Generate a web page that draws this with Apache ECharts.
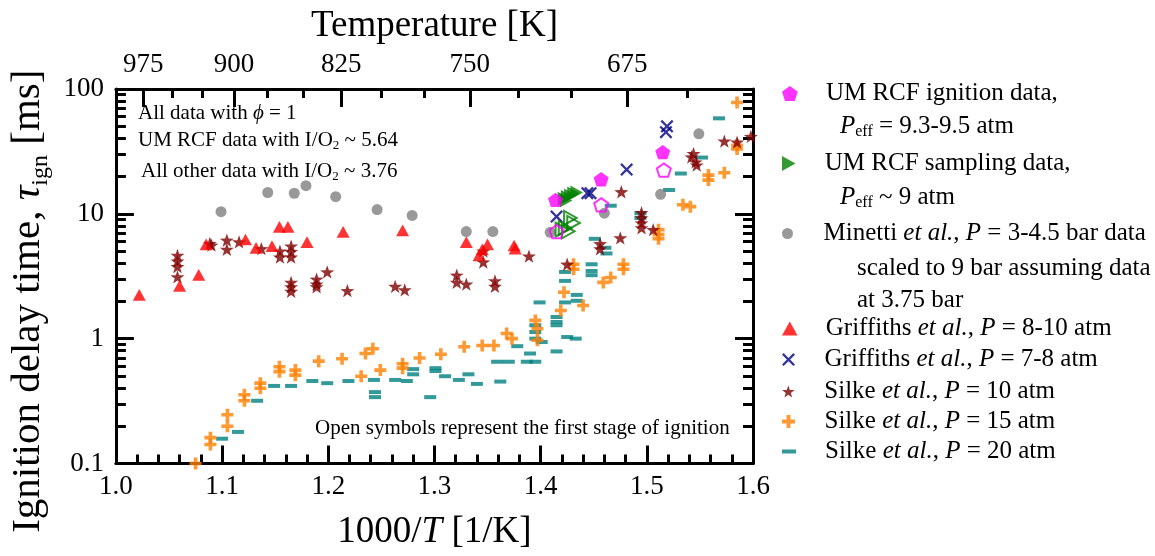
<!DOCTYPE html>
<html><head><meta charset="utf-8">
<script src="https://cdn.jsdelivr.net/npm/echarts@6/dist/echarts.min.js"></script>
<style>html,body{margin:0;padding:0;background:#fff}#c{width:1155px;height:556px}</style>
</head><body><div id="c"></div>
<script>
// ---------------- data (x = 1000/T [1/K], y = ignition delay [ms]) ----------------
const xTickLabels = [1.0, 1.1, 1.2, 1.3, 1.4, 1.5, 1.6];
const yTickLabels = [0.1, 1, 10, 100];
const tempMajor = [975, 900, 825, 750, 675];
const tempMinor = [950, 925, 875, 850, 800, 775, 725, 700, 650];

const umIgnition = [[1.515,31.2],[1.457,18.9],[1.414,12.9]];
const umIgnitionFirst = [[1.516,22.4],[1.457,11.8],[1.415,7.2]];
const umSampling = [[1.424,12.8],[1.422,13.2],[1.425,13.6],[1.428,14.0],[1.431,14.5],[1.434,14.8]];
const umSamplingFirst = [[1.428,9.25],[1.431,8.44],[1.420,7.46],[1.426,7.24],[1.423,7.7]];
const minetti = [[1.099,10.4],[1.143,14.8],[1.168,14.6],[1.179,16.8],[1.207,13.7],[1.246,10.8],[1.279,9.7],[1.330,7.2],[1.355,7.2],[1.409,7.1],[1.460,10.1],[1.513,14.3],[1.549,43.7]];
const griffiths810 = [[1.022,2.24],[1.060,2.65],[1.078,3.24],[1.085,5.68],[1.122,6.22],[1.132,5.34],[1.147,5.5],[1.154,7.84],[1.162,7.84],[1.180,5.92],[1.214,7.16],[1.270,7.37],[1.330,5.92],[1.342,4.64],[1.345,5.18],[1.350,5.68],[1.375,5.57],[1.376,5.25]];
const griffiths78 = [[1.519,50.2],[1.518,45.0],[1.481,22.6],[1.447,14.6],[1.444,14.6],[1.415,9.5]];
const silke10 = [[1.058,4.64],[1.058,4.18],[1.058,3.78],[1.058,3.12],[1.0885,5.78],[1.090,5.6],[1.1045,6.14],[1.1045,5.18],[1.116,5.96],[1.137,5.25],[1.1545,5.02],[1.1545,4.5],[1.165,5.5],[1.165,4.97],[1.165,4.5],[1.165,2.82],[1.165,2.60],[1.165,2.39],[1.189,2.99],[1.189,2.73],[1.189,2.60],[1.199,3.42],[1.218,2.42],[1.263,2.62],[1.272,2.46],[1.321,3.22],[1.321,2.82],[1.330,2.73],[1.346,5.02],[1.346,4.11],[1.357,2.90],[1.357,2.62],[1.389,4.58],[1.425,3.94],[1.456,5.75],[1.456,5.24],[1.476,15.0],[1.495,10.2],[1.495,9.25],[1.495,8.44],[1.495,7.7],[1.506,7.46],[1.475,6.41],[1.542,28.5],[1.546,26.0],[1.544,30.3],[1.547,24.5],[1.573,38.2],[1.585,37.5],[1.598,41.6]];
const silke15 = [[1.075,0.10],[1.089,0.161],[1.089,0.142],[1.105,0.246],[1.105,0.199],[1.121,0.355],[1.121,0.318],[1.136,0.44],[1.136,0.40],[1.154,0.596],[1.154,0.544],[1.169,0.56],[1.169,0.51],[1.191,0.66],[1.213,0.69],[1.235,0.76],[1.242,0.83],[1.231,0.50],[1.249,0.56],[1.270,0.63],[1.270,0.58],[1.286,0.70],[1.306,0.75],[1.328,0.86],[1.345,0.88],[1.356,0.88],[1.368,1.10],[1.373,1.0],[1.395,1.40],[1.397,1.2],[1.397,0.97],[1.419,1.68],[1.422,2.35],[1.431,3.94],[1.431,3.59],[1.440,1.84],[1.459,2.82],[1.466,3.09],[1.478,3.94],[1.478,3.59],[1.511,7.46],[1.511,6.81],[1.511,6.3],[1.534,11.8],[1.541,11.4],[1.558,20.4],[1.558,18.6],[1.573,21.3],[1.585,77.8],[1.585,35.3],[1.585,33.0]];
const silke20 = [[1.100,0.158],[1.115,0.179],[1.133,0.318],[1.149,0.418],[1.165,0.418],[1.185,0.458],[1.199,0.44],[1.219,0.458],[1.243,0.467],[1.244,0.373],[1.244,0.34],[1.263,0.467],[1.274,0.458],[1.280,0.518],[1.280,0.57],[1.296,0.34],[1.301,0.58],[1.301,0.55],[1.310,0.50],[1.323,0.467],[1.332,0.518],[1.340,0.434],[1.362,0.453],[1.359,0.653],[1.370,0.653],[1.378,0.87],[1.387,0.653],[1.390,0.76],[1.395,0.653],[1.395,1.0],[1.395,1.13],[1.395,1.28],[1.401,0.94],[1.399,1.95],[1.415,0.79],[1.415,1.49],[1.415,1.36],[1.415,1.28],[1.423,1.95],[1.423,3.42],[1.423,2.90],[1.425,1.03],[1.433,1.0],[1.434,2.24],[1.434,2.01],[1.448,3.94],[1.448,3.48],[1.448,3.22],[1.451,6.3],[1.461,5.34],[1.462,4.81],[1.466,11.6],[1.494,10.1],[1.494,9.25],[1.521,15.5],[1.532,21.0],[1.552,28.2],[1.568,58.1]];

// ---------------- styling ----------------
const FONT = 'Liberation Serif';
const SYM = {
  pentagon: 'path://M0,-10L9.51,-3.09L5.88,8.09L-5.88,8.09L-9.51,-3.09Z',
  right: 'path://M0,0L18,10L0,20Z',
  circle: 'path://M0,-10A10,10,0,1,1,0,10A10,10,0,1,1,0,-10Z',
  tri: 'path://M0,-10L10,8L-10,8Z',
  cross: 'path://M2.5,0L10,7.5L17.5,0L20,2.5L12.5,10L20,17.5L17.5,20L10,12.5L2.5,20L0,17.5L7.5,10L0,2.5Z',
  star: 'path://M0,-10L2.35,-3.24L9.51,-3.09L3.8,1.24L5.88,8.09L0,4L-5.88,8.09L-3.8,1.24L-9.51,-3.09L-2.35,-3.24Z',
  plus: 'path://M7,0h6v7h7v6h-7v7h-6v-7h-7v-6h7Z',
  dash: 'path://M0,0h14v4h-14Z'
};
const C = {mag:'#ff00ff', green:'#008000', gray:'#808080', red:'#ff0000', navy:'#000080', dred:'#800000', orange:'#ff8000', teal:'#008080'};

function scatter(name, data, symbol, size, color, open) {
  return {
    type: 'scatter', name, data, symbol, symbolSize: size, symbolKeepAspect: true,
    xAxisIndex: 0, yAxisIndex: 0, silent: true, clip: false,
    itemStyle: open ? {color: 'rgba(0,0,0,0)', borderColor: color, borderWidth: 2} : {color},
    emphasis: {disabled: true}
  };
}

const series = [
  scatter('Silke et al., P = 20 atm', silke20, 'rect', [12,4], C.teal),
  scatter('Silke et al., P = 15 atm', silke15, SYM.plus, 12, C.orange),
  scatter('Silke et al., P = 10 atm', silke10, SYM.star, 14, C.dred),
  scatter('Griffiths et al., P = 8-10 atm', griffiths810, SYM.tri, 13, C.red),
  scatter('Griffiths et al., P = 7-8 atm', griffiths78, SYM.cross, 13, C.navy),
  scatter('Minetti et al.', minetti, SYM.circle, 11, C.gray),
  scatter('UM RCF sampling first stage', umSamplingFirst, SYM.right, 14, C.green, true),
  scatter('UM RCF sampling data', umSampling, SYM.right, 14, C.green),
  scatter('UM RCF ignition first stage', umIgnitionFirst, SYM.pentagon, 14, C.mag, true),
  scatter('UM RCF ignition data', umIgnition, SYM.pentagon, 15, C.mag)
];

const richL = {
  n: {fontFamily: FONT, fontSize: 25, color: '#000', lineHeight: 28},
  i: {fontFamily: FONT, fontSize: 25, color: '#000', lineHeight: 28, fontStyle: 'italic'},
  s: {fontFamily: FONT, fontSize: 16, color: '#000', lineHeight: 10, verticalAlign: 'bottom'}
};
const legendDefs = [
  {name: 'UM RCF ignition data', y: 95, size: 15, icon: SYM.pentagon, fmt: '{n|UM RCF ignition data,}'},
  {name: 'UM RCF sampling data', y: 165, size: 15, icon: SYM.right, fmt: '{n|UM RCF sampling data,}'},
  {name: 'Minetti et al.', y: 235, size: 11, icon: SYM.circle, fmt: '{n|Minetti }{i|et al.}{n|, }{i|P}{n| = 3-4.5 bar data}'},
  {name: 'Griffiths et al., P = 8-10 atm', y: 330, size: 14, icon: SYM.tri, fmt: '{n|Griffiths }{i|et al.}{n|, }{i|P}{n| = 8-10 atm}'},
  {name: 'Griffiths et al., P = 7-8 atm', y: 361, size: 13, icon: SYM.cross, fmt: '{n|Griffiths }{i|et al.}{n|, }{i|P}{n| = 7-8 atm}'},
  {name: 'Silke et al., P = 10 atm', y: 393, size: 12, icon: SYM.star, fmt: '{n|Silke }{i|et al.}{n|, }{i|P}{n| = 10 atm}'},
  {name: 'Silke et al., P = 15 atm', y: 423, size: 13, icon: SYM.plus, fmt: '{n|Silke }{i|et al.}{n|, }{i|P}{n| = 15 atm}'},
  {name: 'Silke et al., P = 20 atm', y: 453, size: 4, icon: SYM.dash, fmt: '{n|Silke }{i|et al.}{n|, }{i|P}{n| = 20 atm}'}
];
const legends = legendDefs.map(d => ({
  data: [{name: d.name, icon: d.icon}],
  left: 782, top: d.y - 14, padding: 0, itemGap: 0,
  itemWidth: 62, itemHeight: d.size, symbolKeepAspect: true, selectedMode: false,
  textStyle: {fontFamily: FONT, fontSize: 25, color: '#000', rich: richL},
  formatter: () => d.fmt
}));

const axisLineStyle = {color: '#000', width: 3};
const log10 = Math.log10;
const yMinorLog = [];
[-1, 0, 1].forEach(d => { for (let k = 2; k <= 9; k++) yMinorLog.push(d + log10(k)); });

const richA = {
  a: {fontFamily: FONT, fontSize: 21, color: '#111', lineHeight: 24},
  ai: {fontFamily: FONT, fontSize: 21, color: '#111', lineHeight: 24, fontStyle: 'italic'},
  as: {fontFamily: FONT, fontSize: 13, color: '#111', lineHeight: 6, verticalAlign: 'bottom'}
};
function txt(x, y, text, rich) {
  return {type: 'text', x, y, silent: true, style: {text, rich, verticalAlign: 'middle', align: 'left', fill: '#000', fontFamily: FONT}};
}

const option = {
  animation: false,
  backgroundColor: '#fff',
  grid: {left: 115, right: 402, top: 88, bottom: 90},
  legend: legends,
  xAxis: [
    {type: 'value', position: 'bottom', min: xTickLabels[0], max: xTickLabels[xTickLabels.length - 1], interval: 0.1,
     axisLine: {onZero: false, lineStyle: axisLineStyle}, splitLine: {show: false},
     axisTick: {inside: true, length: 18, lineStyle: {width: 3, color: '#000'}},
     minorTick: {show: true, splitNumber: 5, length: 9, lineStyle: {width: 3, color: '#000'}},
     axisLabel: {margin: 10, fontFamily: FONT, fontSize: 27, color: '#000', formatter: v => v.toFixed(1)},
     name: '{n|1000/}{i|T}{n| [1/K]}', nameLocation: 'middle', nameGap: 48,
     nameTextStyle: {rich: {n: {fontFamily: FONT, fontSize: 37, color: '#000', lineHeight: 42}, i: {fontFamily: FONT, fontSize: 37, color: '#000', lineHeight: 42, fontStyle: 'italic'}}}},
    {type: 'value', position: 'top', min: 1.0, max: 1.6,
     axisLine: {onZero: false, lineStyle: axisLineStyle}, splitLine: {show: false},
     axisTick: {inside: true, length: 18, lineStyle: {width: 3, color: '#000'}, customValues: tempMajor.map(t => 1000 / t)},
     axisLabel: {margin: 10, fontFamily: FONT, fontSize: 27, color: '#000', customValues: tempMajor.map(t => 1000 / t), formatter: v => String(Math.round(1000 / v))},
     name: 'Temperature [K]', nameLocation: 'middle', nameGap: 40,
     nameTextStyle: {fontFamily: FONT, fontSize: 37, color: '#000', lineHeight: 42}},
    {type: 'value', position: 'top', min: 1.0, max: 1.6,
     axisLine: {show: false, onZero: false}, splitLine: {show: false}, axisLabel: {show: false},
     axisTick: {inside: true, length: 9, lineStyle: {width: 3, color: '#000'}, customValues: tempMinor.map(t => 1000 / t)}}
  ],
  yAxis: [
    {type: 'log', logBase: 10, position: 'left', min: yTickLabels[0], max: yTickLabels[yTickLabels.length - 1],
     axisLine: {onZero: false, lineStyle: axisLineStyle}, splitLine: {show: false},
     axisTick: {inside: true, length: 18, lineStyle: {width: 3, color: '#000'}},
     axisLabel: {margin: 12, fontFamily: FONT, fontSize: 27, color: '#000', formatter: v => String(Number(v.toPrecision(3)))},
     name: '{n|Ignition delay time, }{i|τ}{s|ign}{n| [ms]}', nameLocation: 'middle', nameGap: 58,
     nameTextStyle: {padding: [0, 50, 0, 0], rich: {
       n: {fontFamily: FONT, fontSize: 41, color: '#000', lineHeight: 48},
       i: {fontFamily: FONT, fontSize: 41, color: '#000', lineHeight: 48, fontStyle: 'italic'},
       s: {fontFamily: FONT, fontSize: 24, color: '#000', lineHeight: 14, verticalAlign: 'bottom'}}}},
    {type: 'value', position: 'left', min: -1, max: 2,
     axisLine: {show: false, onZero: false}, splitLine: {show: false}, axisLabel: {show: false},
     axisTick: {inside: true, length: 10, lineStyle: {width: 3, color: '#000'}, customValues: yMinorLog}},
    {type: 'log', logBase: 10, position: 'right', min: 0.1, max: 100,
     axisLine: {onZero: false, lineStyle: axisLineStyle}, splitLine: {show: false}, axisLabel: {show: false},
     axisTick: {inside: true, length: 18, lineStyle: {width: 3, color: '#000'}}},
    {type: 'value', position: 'right', min: -1, max: 2,
     axisLine: {show: false, onZero: false}, splitLine: {show: false}, axisLabel: {show: false},
     axisTick: {inside: true, length: 10, lineStyle: {width: 3, color: '#000'}, customValues: yMinorLog}}
  ],
  graphic: [
    txt(138, 113, '{a|All data with }{ai|ϕ}{a| = 1}', richA),
    txt(138, 140, '{a|UM RCF data with I/O}{as|2}{a| ~ 5.64}', richA),
    txt(141, 171, '{a|All other data with I/O}{as|2}{a| ~ 3.76}', richA),
    txt(315, 428, '{a|Open symbols represent the first stage of ignition}', richA),
    txt(840, 126, '{i|P}{s|eff}{n| = 9.3-9.5 atm}', richL),
    txt(840, 197, '{i|P}{s|eff}{n| ~ 9 atm}', richL),
    txt(857, 268, '{n|scaled to 9 bar assuming data}', richL),
    txt(857, 300, '{n|at 3.75 bar}', richL)
  ],
  series
};

const chart = echarts.init(document.getElementById('c'), null, {renderer: 'canvas'});
chart.setOption(option);
</script>
</body></html>
